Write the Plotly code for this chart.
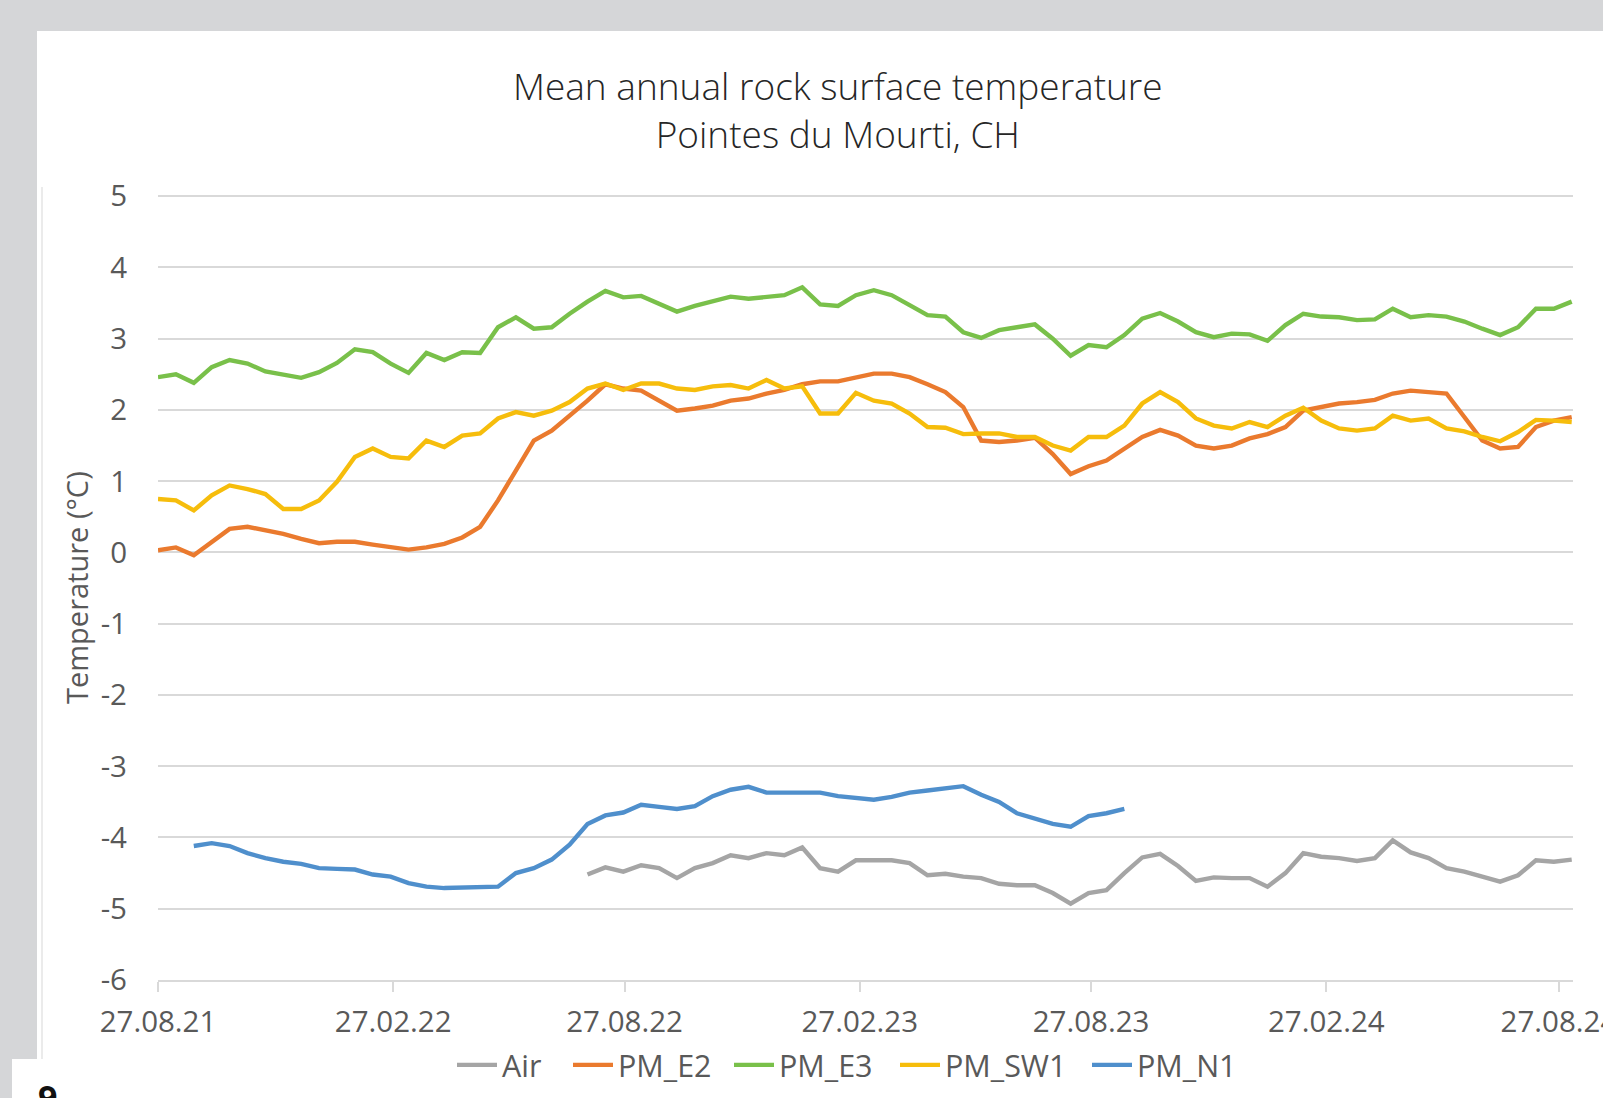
import datetime as dt
import plotly.graph_objects as go

# ---------------- data ----------------
START = dt.date(2021, 8, 27)
STEP_DAYS = 14
N_POINTS = 80
DATES = [START + dt.timedelta(days=STEP_DAYS * k) for k in range(N_POINTS)]

PM_E2 = [0.03, 0.07, -0.04, 0.15, 0.33, 0.36, 0.31, 0.26, 0.19, 0.13,
         0.15, 0.15, 0.11, 0.08, 0.04, 0.07, 0.12, 0.21, 0.36, 0.73,
         1.15, 1.57, 1.71, 1.92, 2.13, 2.36, 2.30, 2.27, 2.13, 1.99,
         2.02, 2.06, 2.13, 2.16, 2.23, 2.28, 2.36, 2.40, 2.40, 2.46,
         2.51, 2.51, 2.46, 2.36, 2.25, 2.04, 1.57, 1.55, 1.57, 1.61,
         1.38, 1.10, 1.21, 1.29, 1.46, 1.62, 1.72, 1.64, 1.50, 1.46,
         1.50, 1.60, 1.66, 1.76, 1.99, 2.04, 2.09, 2.11, 2.14, 2.23,
         2.27, 2.25, 2.23, 1.90, 1.57, 1.46, 1.48, 1.76, 1.85, 1.90]

PM_E3 = [2.46, 2.50, 2.38, 2.60, 2.70, 2.65, 2.54, 2.49, 2.45, 2.53,
         2.66, 2.85, 2.81, 2.65, 2.52, 2.80, 2.70, 2.81, 2.80, 3.16,
         3.30, 3.14, 3.16, 3.35, 3.52, 3.67, 3.58, 3.60, 3.49, 3.38,
         3.46, 3.53, 3.59, 3.56, 3.59, 3.61, 3.72, 3.48, 3.46, 3.61,
         3.68, 3.61, 3.47, 3.33, 3.31, 3.09, 3.01, 3.12, 3.16, 3.20,
         3.00, 2.76, 2.91, 2.88, 3.05, 3.28, 3.36, 3.24, 3.09, 3.02,
         3.07, 3.06, 2.97, 3.19, 3.35, 3.31, 3.30, 3.26, 3.27, 3.42,
         3.30, 3.33, 3.31, 3.24, 3.14, 3.05, 3.16, 3.42, 3.42, 3.52]

PM_SW1 = [0.75, 0.73, 0.59, 0.80, 0.94, 0.89, 0.82, 0.61, 0.61, 0.73,
          0.99, 1.34, 1.46, 1.34, 1.32, 1.57, 1.48, 1.64, 1.67, 1.88,
          1.97, 1.92, 1.99, 2.11, 2.30, 2.37, 2.28, 2.37, 2.37, 2.30,
          2.28, 2.33, 2.35, 2.30, 2.42, 2.30, 2.33, 1.95, 1.95, 2.24,
          2.13, 2.09, 1.95, 1.76, 1.75, 1.66, 1.67, 1.67, 1.62, 1.62,
          1.50, 1.43, 1.62, 1.62, 1.78, 2.09, 2.25, 2.11, 1.88, 1.78,
          1.74, 1.83, 1.76, 1.92, 2.03, 1.85, 1.74, 1.71, 1.74, 1.92,
          1.85, 1.88, 1.74, 1.70, 1.62, 1.56, 1.69, 1.86, 1.85, 1.83]

PM_N1_START = 2   # first sample index of the PM_N1 record
PM_N1 = [-4.12, -4.08, -4.12, -4.22, -4.29, -4.34, -4.37, -4.43, -4.44, -4.45,
         -4.52, -4.55, -4.64, -4.69, -4.71, -4.70, -4.70, -4.69, -4.50, -4.43,
         -4.31, -4.10, -3.81, -3.69, -3.65, -3.54, -3.57, -3.60, -3.56, -3.42,
         -3.33, -3.29, -3.37, -3.37, -3.37, -3.37, -3.42, -3.45, -3.47, -3.43,
         -3.37, -3.34, -3.31, -3.28, -3.40, -3.50, -3.66, -3.74, -3.81, -3.85,
         -3.70, -3.66, -3.60]

AIR_START = 24    # first sample index of the Air record
AIR = [-4.52, -4.42, -4.48, -4.39, -4.43, -4.57, -4.43, -4.36, -4.25, -4.29,
       -4.22, -4.25, -4.14, -4.43, -4.48, -4.32, -4.32, -4.32, -4.36, -4.53,
       -4.51, -4.55, -4.57, -4.65, -4.67, -4.67, -4.78, -4.93, -4.78, -4.74,
       -4.50, -4.28, -4.23, -4.40, -4.61, -4.56, -4.57, -4.57, -4.69, -4.50,
       -4.22, -4.27, -4.29, -4.33, -4.29, -4.04, -4.21, -4.29, -4.43, -4.48,
       -4.55, -4.62, -4.53, -4.32, -4.34, -4.31]

X_TICK_DATES = ["2021-08-27", "2022-02-27", "2022-08-27", "2023-02-27",
                "2023-08-27", "2024-02-27", "2024-08-27"]
X_TICK_LABELS = ["27.08.21", "27.02.22", "27.08.22", "27.02.23",
                 "27.08.23", "27.02.24", "27.08.24"]
Y_TICKS = [5, 4, 3, 2, 1, 0, -1, -2, -3, -4, -5, -6]
Y_TICK_LABELS = ["5", "4", "3", "2", "1", "0", "-1", "-2", "-3", "-4", "-5", "-6"]

TITLE = "Mean annual rock surface temperature<br>Pointes du Mourti, CH"
Y_TITLE = "Temperature (°C)"

# ---------------- styling ----------------
W, H = 1603, 1098
L, R, T, B = 158, 30, 194, 118
PW, PH = W - L - R, H - T - B
FONT = "Open Sans"
TICK_COLOR = "#595959"
GRID = "#d9d9d9"
FRAME = "#d5d6d8"

COLORS = {"Air": "#a5a5a5", "PM_E2": "#ea7a2e", "PM_E3": "#79c04a",
          "PM_SW1": "#f6bd0c", "PM_N1": "#4f8fcc"}
# left pixel of each legend entry (full-size reference pixels)
LEGEND_X = {"Air": 452, "PM_E2": 568, "PM_E3": 729, "PM_SW1": 895, "PM_N1": 1087}


def px(x):
    return (x - L) / PW


def py(y):
    return (H - B - y) / PH


series = [
    ("Air", DATES[AIR_START:AIR_START + len(AIR)], AIR),
    ("PM_E2", DATES, PM_E2),
    ("PM_E3", DATES, PM_E3),
    ("PM_SW1", DATES, PM_SW1),
    ("PM_N1", DATES[PM_N1_START:PM_N1_START + len(PM_N1)], PM_N1),
]

fig = go.Figure()
legend_layout = {}
for i, (name, xs, ys) in enumerate(series):
    lg = "legend" if i == 0 else f"legend{i + 1}"
    fig.add_trace(go.Scatter(x=xs, y=ys, name=name, mode="lines", legend=lg,
                             line=dict(color=COLORS[name], width=4.4)))
    legend_layout[lg] = dict(
        orientation="h", x=px(LEGEND_X[name]), y=py(1065), xanchor="left",
        yanchor="middle", font=dict(family=FONT, size=30.5, color=TICK_COLOR),
        bgcolor="rgba(0,0,0,0)", itemwidth=40)

shapes = [
    # grey surround of the screenshot
    dict(type="rect", xref="paper", yref="paper", x0=px(0), x1=px(W + 5),
         y0=py(31), y1=py(-5), fillcolor=FRAME, line=dict(width=0), layer="below"),
    dict(type="rect", xref="paper", yref="paper", x0=px(-5), x1=px(37),
         y0=py(1059), y1=py(-5), fillcolor=FRAME, line=dict(width=0), layer="below"),
    dict(type="rect", xref="paper", yref="paper", x0=px(-5), x1=px(12),
         y0=py(H + 5), y1=py(1059), fillcolor=FRAME, line=dict(width=0), layer="below"),
    dict(type="line", xref="paper", yref="paper", x0=px(42), x1=px(42),
         y0=py(1059), y1=py(187), line=dict(color="#e4e4e4", width=1.5)),
]

annotations = [
    dict(text=TITLE, xref="paper", yref="paper", x=px(838), y=py(109),
         xanchor="center", yanchor="middle", showarrow=False,
         font=dict(family=FONT, size=37, color="#262626", weight=300)),
    dict(text=Y_TITLE, xref="paper", yref="paper", x=px(76), y=py(588),
         xanchor="center", yanchor="middle", textangle=-90, showarrow=False,
         font=dict(family=FONT, size=29, color=TICK_COLOR)),
    dict(text="<b>9</b>", xref="paper", yref="paper", x=px(47), y=py(1072),
         xanchor="center", yanchor="top", showarrow=False,
         font=dict(family=FONT, size=34, color="#111111")),
]

fig.update_layout(
    width=W, height=H,
    margin=dict(l=L, r=R, t=T, b=B, autoexpand=False),
    paper_bgcolor="white", plot_bgcolor="white",
    font=dict(family=FONT, color=TICK_COLOR),
    showlegend=True,
    shapes=shapes,
    annotations=annotations,
    xaxis=dict(type="date", range=["2021-08-27", "2024-09-07"],
               tickvals=X_TICK_DATES, ticktext=X_TICK_LABELS,
               showgrid=False, zeroline=False,
               showline=True, linecolor=GRID, linewidth=2,
               ticks="outside", ticklen=10, tickwidth=1.5, tickcolor=GRID,
               ticklabelstandoff=5, ticklabeloverflow="allow",
               tickfont=dict(family=FONT, size=29.5, color=TICK_COLOR)),
    yaxis=dict(range=[-6, 5.03], tickvals=Y_TICKS, ticktext=Y_TICK_LABELS,
               showgrid=True, gridcolor=GRID, gridwidth=2,
               zeroline=False, showline=False, ticks="",
               ticklabelstandoff=30,
               tickfont=dict(family=FONT, size=29.5, color=TICK_COLOR)),
    **legend_layout,
)

fig.write_html("out.html",
               config={"displayModeBar": False},
               post_script="document.body.style.margin='0';"
                           "document.body.style.overflow='hidden';")
